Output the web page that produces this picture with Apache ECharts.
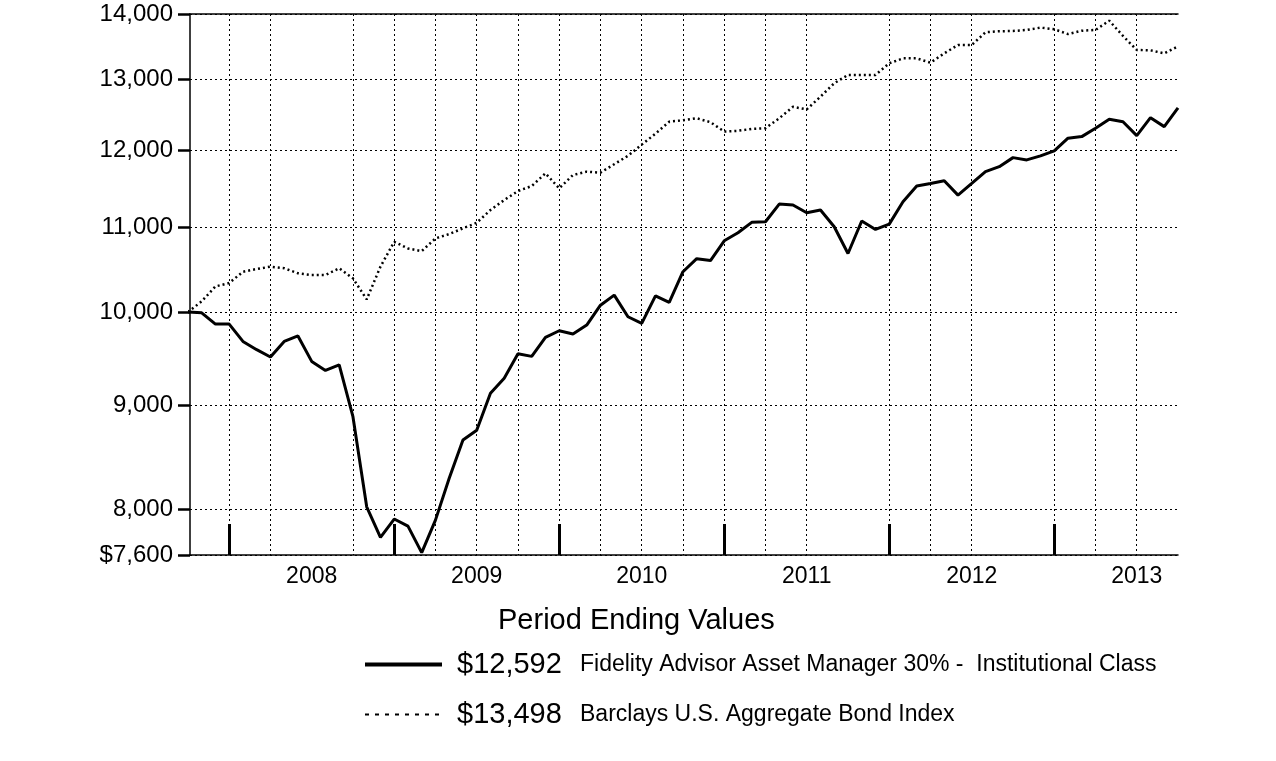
<!DOCTYPE html>
<html><head><meta charset="utf-8">
<script src="https://cdn.jsdelivr.net/npm/echarts@6/dist/echarts.min.js"></script>
<style>html,body{margin:0;padding:0;background:#fff}#c{width:1276px;height:761px}</style>
</head><body><div id="c"></div>
<script>
// Month-end periods, Sep 2007 .. Sep 2013
const months = [];
for (let y = 2007, m = 9; y < 2013 || (y === 2013 && m <= 9); m++) {
  if (m > 12) { m = 1; y++; }
  if (y === 2013 && m > 9) break;
  months.push(y + '-' + String(m).padStart(2, '0'));
}
const fundValues = [
  10000, 9990, 9864, 9864, 9673, 9583, 9504, 9673, 9733, 9457, 9361, 9420,
  8885, 8025, 7753, 7915, 7852, 7620, 7905, 8288, 8653, 8750, 9122, 9280,
  9540, 9511, 9717, 9790, 9754, 9853, 10077, 10192, 9946, 9872, 10184, 10108,
  10465, 10620, 10598, 10837, 10935, 11065, 11073, 11296, 11284, 11186, 11220, 11010,
  10683, 11082, 10977, 11043, 11326, 11528, 11562, 11598, 11410, 11562, 11717, 11783,
  11904, 11873, 11928, 11995, 12168, 12190, 12306, 12431, 12397, 12204, 12453, 12328,
  12592
];
const indexValues = [
  10000, 10120, 10293, 10332, 10465, 10497, 10525, 10506, 10447, 10426, 10426, 10506,
  10387, 10143, 10525, 10825, 10744, 10711, 10866, 10920, 10990, 11060, 11220, 11347,
  11463, 11528, 11695, 11498, 11673, 11717, 11704, 11816, 11928, 12080, 12230, 12397,
  12416, 12445, 12390, 12260, 12270, 12297, 12306, 12445, 12607, 12570, 12752, 12947,
  13069, 13069, 13069, 13242, 13316, 13316, 13251, 13392, 13518, 13518, 13714, 13730,
  13734, 13750, 13786, 13761, 13687, 13738, 13750, 13895, 13657, 13443, 13437, 13392,
  13498
];
const yTickValues = [7600, 8000, 9000, 10000, 11000, 12000, 13000, 14000];
const yearLabels = ['2008', '2009', '2010', '2011', '2012', '2013'];
const seriesNames = ['Fidelity Advisor Asset Manager 30% -  Institutional Class', 'Barclays U.S. Aggregate Bond Index'];
const endingValues = ['$12,592', '$13,498'];
const skippedGridMonths = ['2008-06', '2011-09', '2012-09'];
const titleText = 'Period Ending Values';

// derived tick positions (month indices)
const yearTickIdx = [], yearLabelIdx = [], gridIdx = [];
months.forEach((m, i) => {
  const mm = m.slice(5);
  if (mm === '12') yearTickIdx.push(i);
  if (mm === '06') yearLabelIdx.push(i);
  if (['03', '06', '09', '12'].includes(mm) && i > 0 && i < months.length - 1 && !skippedGridMonths.includes(m)) gridIdx.push(i);
});

const FONT = 'Liberation Sans, Arial, sans-serif';
const dotted = { color: '#000', width: 1, type: [2, 3] };
const chart = echarts.init(document.getElementById('c'), null, { renderer: 'canvas' });
chart.setOption({
  animation: false,
  backgroundColor: '#fff',
  title: {
    text: titleText, left: 493, top: 601,
    textStyle: { fontFamily: FONT, fontSize: 29, fontWeight: 'normal', color: '#000' }
  },
  grid: { left: 190, top: 14, right: 98, bottom: 206, containLabel: false },
  legend: {
    orient: 'vertical', left: 358, top: 645, itemWidth: 77, itemHeight: 14, itemGap: 21,
    data: [
      { name: seriesNames[0], lineStyle: { width: 4, color: '#000', type: 'solid' }, itemStyle: { opacity: 0 } },
      { name: seriesNames[1], lineStyle: { width: 2, color: '#000', type: [4, 6] }, itemStyle: { opacity: 0 } }
    ],
    formatter: name => '{val|' + endingValues[seriesNames.indexOf(name)] + '}{nm|' + name + '}',
    textStyle: {
      color: '#000',
      rich: {
        val: { fontFamily: FONT, fontSize: 29, color: '#000', width: 123, padding: [0, 0, 0, 10], lineHeight: 34 },
        nm: { fontFamily: FONT, fontSize: 23, color: '#000', lineHeight: 34 }
      }
    }
  },
  xAxis: [
    {
      type: 'value', min: 0.15, max: months.length - 1, position: 'bottom',
      axisLine: { show: true, lineStyle: { color: '#000', width: 1.5 } },
      axisTick: { show: false, customValues: gridIdx },
      axisLabel: { show: false },
      splitLine: { show: true, lineStyle: dotted }
    },
    {
      type: 'value', min: 0.15, max: months.length - 1, position: 'bottom',
      axisLine: { show: false },
      axisTick: { show: true, inside: true, length: 31, customValues: yearTickIdx, lineStyle: { color: '#000', width: 3 } },
      axisLabel: {
        show: true, customValues: yearLabelIdx, margin: 10,
        formatter: v => months[Math.round(v)].slice(0, 4),
        fontFamily: FONT, fontSize: 23, color: '#000'
      },
      splitLine: { show: false }
    },
    {
      type: 'value', min: 0.15, max: months.length - 1, position: 'top',
      axisLine: { show: true, lineStyle: { color: '#000', width: 1.5 } },
      axisTick: { show: false }, axisLabel: { show: false }, splitLine: { show: false }
    }
  ],
  yAxis: {
    type: 'log', logBase: 10, min: yTickValues[0], max: yTickValues[yTickValues.length - 1],
    axisLine: { show: true, lineStyle: { color: '#000', width: 1.5 } },
    axisTick: { show: true, inside: false, length: 12, customValues: yTickValues, lineStyle: { color: '#000', width: 2.5 } },
    axisLabel: {
      show: true, customValues: yTickValues, margin: 17,
      formatter: v => (v === yTickValues[0] ? '$' : '') + Number(v).toLocaleString('en-US'),
      fontFamily: FONT, fontSize: 24, color: '#000'
    },
    splitLine: { show: true, lineStyle: dotted }
  },
  series: [
    {
      name: seriesNames[0], type: 'line', xAxisIndex: 0, symbol: 'none', z: 4,
      data: fundValues.map((v, i) => [i, v]),
      lineStyle: { color: '#000', width: 3 }, itemStyle: { color: '#000' }
    },
    {
      name: seriesNames[1], type: 'line', xAxisIndex: 0, symbol: 'none', z: 3,
      data: indexValues.map((v, i) => [i, v]),
      lineStyle: { color: '#000', width: 2.5, type: [2, 3] }, itemStyle: { color: '#000' }
    }
  ]
});
</script></body></html>
